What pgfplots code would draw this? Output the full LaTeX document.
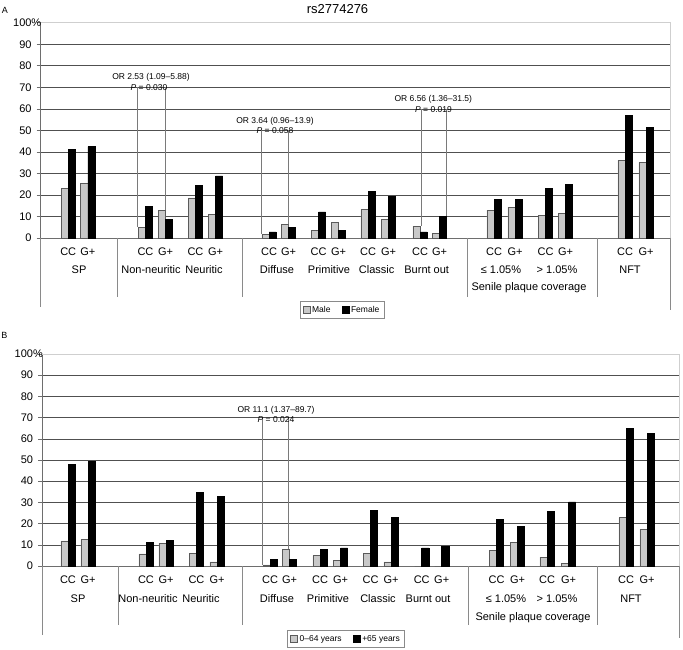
\documentclass[border=0pt]{standalone}
\usepackage{pgfplots}
\usepackage{pgfplotstable}
\pgfplotsset{compat=1.18}
\usepackage{fontspec}
\setmainfont{Liberation Sans}
\definecolor{barg}{HTML}{C8C8C8}
\definecolor{bargedge}{HTML}{5A5A5A}
\definecolor{gridc}{HTML}{505050}
\definecolor{axc}{HTML}{6E6E6E}
\definecolor{lightc}{HTML}{CFCFCF}
\definecolor{linec}{HTML}{8A8A8A}
\definecolor{annc}{HTML}{7A7A7A}
\newcommand\lf{\fontsize{11}{13}\selectfont}
\newcommand\af{\fontsize{8.5}{10}\selectfont}

\pgfplotstableread{
x m f
68.2 23.1 41.0
87.8 25.5 42.4
145.5 5.0 14.6
165.5 12.8 8.7
195.5 18.6 24.5
215.5 11.1 28.9
269 1.7 2.8
288.5 6.3 4.8
318.5 3.4 12.1
338.5 7.1 3.7
368 13.3 21.5
388.5 8.8 19.3
420 5.4 2.9
439.5 2.2 9.9
494 13.0 18.1
515 14.2 17.8
545.5 10.5 23.1
565.5 11.5 24.9
625 36.1 57.1
646 35.1 51.4
}\dataA

\pgfplotstableread{
x y o
68 11.8 48.0
88 12.4 49.5
146 5.7 11.3
166 10.7 12.1
196.5 6.1 34.7
217 1.9 32.7
270 0.5 3.3
289.5 8.0 3.3
320 4.9 7.9
340.5 2.8 8.5
370.5 6.0 26.3
391 1.9 23.0
421.7 0 8.6
441.7 0 9.3
496.5 7.5 21.9
517.5 11.3 18.7
547 4.2 25.6
568.5 1.1 30.3
626 22.8 64.9
647 17.3 62.4
}\dataB

\pgfplotsset{
  sq legend/.style={legend image code/.code={\draw[##1, line width=0.5pt] (0pt,-3pt) rectangle (7pt,4pt);}},
  panel/.style={
    scale only axis, clip=false,
    ymin=0, ymax=100,
    ytick={0,10,...,90}, yticklabels={0,10,20,30,40,50,60,70,80,90},
    extra y ticks={100}, extra y tick labels={100\rlap{\%}}, extra y tick style={grid=none},
    ymajorgrids, major grid style={draw=gridc, line width=0.6pt},
    axis x line*=bottom, axis y line*=left,
    axis line style={draw=axc, line width=0.7pt, -},
    tick align=outside, major tick length=4pt,
    ytick style={draw=axc, line width=0.6pt},
    xtick style={draw=none},
    ticklabel style={font=\lf},
    yticklabel style={inner sep=0pt, xshift=-5pt},
    xticklabel style={inner sep=0pt, yshift=-6pt},
    xticklabels={CC,G+,CC,G+,CC,G+,CC,G+,CC,G+,CC,G+,CC,G+,CC,G+,CC,G+,CC,G+},
    ybar, bar width=7.2,
    legend columns=2,
    legend style={anchor=center, draw=linec, line width=0.5pt, font=\af, inner sep=2.5pt,
      /tikz/every even column/.append style={column sep=9pt}},
  },
  gbar/.style={fill=barg, draw=bargedge, line width=0.5pt, bar shift=-3.6, sq legend},
  kbar/.style={fill=black, draw=black, line width=0.5pt, bar shift=3.6, sq legend},
}

\begin{document}
\begin{tikzpicture}[x=1pt,y=1pt]
\path[use as bounding box] (0,0) rectangle (683,649);

% ---------- Panel A ----------
\begin{axis}[panel,
  at={(40.7pt,411pt)}, anchor=south west,
  width=629.3pt, height=215.3pt,
  xmin=40.7, xmax=670,
  xtick={68.2,87.8,145.5,165.5,195.5,215.5,269,288.5,318.5,338.5,368,388.5,420,439.5,494,515,545.5,565.5,625,646},
  legend style={at={(0.4788,-0.334)}},
]
\addplot[gbar] table[x=x,y=m] {\dataA};
\addplot[kbar] table[x=x,y=f] {\dataA};
\legend{Male,Female}
\draw[lightc, line width=0.7pt] (axis cs:40.7,100) -- (axis cs:670,100) -- (axis cs:670,0);
% annotations
\draw[annc, line width=0.6pt] (axis cs:137.7,70) -- (axis cs:137.7,5.3);
\draw[annc, line width=0.6pt] (axis cs:165.7,70) -- (axis cs:165.7,13.0);
\node[font=\af] at (axis cs:151,74.8) {OR 2.53 (1.09–5.88)};
\node[font=\af] at (axis cs:149,69.8) {\textit{P} = 0.030};
\draw[annc, line width=0.6pt] (axis cs:261.7,50) -- (axis cs:261.7,1.9);
\draw[annc, line width=0.6pt] (axis cs:288.3,50) -- (axis cs:288.3,6.5);
\node[font=\af] at (axis cs:275,54.3) {OR 3.64 (0.96–13.9)};
\node[font=\af] at (axis cs:275,49.7) {\textit{P} = 0.058};
\draw[annc, line width=0.6pt] (axis cs:421.7,60) -- (axis cs:421.7,5.6);
\draw[annc, line width=0.6pt] (axis cs:446.7,60) -- (axis cs:446.7,10.1);
\node[font=\af] at (axis cs:433.3,64.4) {OR 6.56 (1.36–31.5)};
\node[font=\af] at (axis cs:433.5,59.8) {\textit{P} = 0.019};
\end{axis}

% ---------- Panel B ----------
\begin{axis}[panel,
  at={(42.3pt,83pt)}, anchor=south west,
  width=636.7pt, height=212pt,
  xmin=42.3, xmax=679,
  xtick={68,88,146,166,196.5,217,270,289.5,320,340.5,370.5,391,421.7,441.7,496.5,517.5,547,568.5,626,647},
  legend style={at={(0.477,-0.344)}},
]
\addplot[gbar] table[x=x,y=y] {\dataB};
\addplot[kbar] table[x=x,y=o] {\dataB};
\legend{0–64 years,+65 years}
\draw[lightc, line width=0.7pt] (axis cs:42.3,100) -- (axis cs:679,100) -- (axis cs:679,0);
\draw[annc, line width=0.6pt] (axis cs:262,70) -- (axis cs:262,0.7);
\draw[annc, line width=0.6pt] (axis cs:288.3,70) -- (axis cs:288.3,8.2);
\node[font=\af] at (axis cs:276,73.3) {OR 11.1 (1.37–89.7)};
\node[font=\af] at (axis cs:276,68.9) {\textit{P} = 0.024};
\end{axis}

% ---------- titles ----------
\node[font=\fontsize{13}{15}\selectfont] at (337.5,640) {rs2774276};
\node[font=\fontsize{9}{11}\selectfont] at (5,638.5) {A};
\node[font=\fontsize{9}{11}\selectfont] at (4.5,313.5) {B};

% ---------- lower structure ----------
\begin{scope}[linec, line width=0.7pt]
\draw (40.7,411) -- (40.7,342);
\foreach \xx in {117.3,242,467.7,597} \draw (\xx,411) -- (\xx,352);
\draw (670,411) -- (670,339);
\draw (42.3,83) -- (42.3,14);
\foreach \xx in {118.3,242.3,468.3,597.7} \draw (\xx,83) -- (\xx,24);
\draw (679,83) -- (679,11);
\end{scope}

\begin{scope}[every node/.style={font=\lf, inner sep=0pt}]
\node at (79,379) {SP};
\node at (151,379) {Non-neuritic};
\node at (204,379) {Neuritic};
\node at (277,379) {Diffuse};
\node at (329,379) {Primitive};
\node at (376.7,379) {Classic};
\node at (426.7,379) {Burnt out};
\node at (501,379) {≤ 1.05\%};
\node at (557,379) {> 1.05\%};
\node at (529,361) {Senile plaque coverage};
\node at (630,379) {NFT};

\node at (78,50) {SP};
\node at (148,50) {Non-neuritic};
\node at (201,50) {Neuritic};
\node at (277,50) {Diffuse};
\node at (328,50) {Primitive};
\node at (378,50) {Classic};
\node at (428,50) {Burnt out};
\node at (506,50) {≤ 1.05\%};
\node at (557,50) {> 1.05\%};
\node at (533,31) {Senile plaque coverage};
\node at (631,50) {NFT};
\end{scope}
\end{tikzpicture}
\end{document}
